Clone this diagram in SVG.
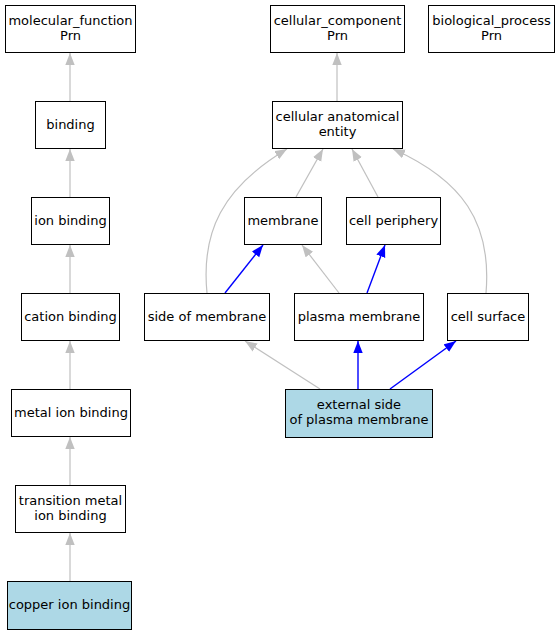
<svg xmlns="http://www.w3.org/2000/svg" width="560" height="635" viewBox="0 0 560 635">
<defs>
<style>
.n rect{fill:#fff;stroke:#000;stroke-width:1}
.n.hl rect{fill:#add8e6}
text{font-family:"DejaVu Sans","Liberation Sans",sans-serif;font-size:13px;fill:#000;text-anchor:middle}
.g{stroke:#c0c0c0;fill:none;stroke-width:1.2}
.b{stroke:#0000ff;fill:none;stroke-width:1.4}
.g{marker-end:url(#ag)}
.b{marker-end:url(#ab)}
</style>
<marker id="ag" markerUnits="userSpaceOnUse" markerWidth="13" markerHeight="11" refX="12" refY="5" orient="auto" viewBox="0 0 13 11"><polygon points="0,0.3 12,5 0,9.7" fill="#c0c0c0"/></marker>
<marker id="ab" markerUnits="userSpaceOnUse" markerWidth="13" markerHeight="11" refX="12" refY="5" orient="auto" viewBox="0 0 13 11"><polygon points="0,0.3 12,5 0,9.7" fill="#0000ff"/></marker>
</defs>
<rect width="560" height="635" fill="#fff"/>
<g id="edges">
<path class="g" d="M70,101 L70,53"/>
<path class="g" d="M70,197 L70,149"/>
<path class="g" d="M70,293 L70,245"/>
<path class="g" d="M70,389 L70,341"/>
<path class="g" d="M70,485 L70,437"/>
<path class="g" d="M70,581 L70,533"/>
<path class="g" d="M337,101 L337,53"/>
<path class="g" d="M207,293 C201,232 222,188 287,149"/>
<path class="g" d="M296,197 L323,149"/>
<path class="g" d="M378,197 L352,149"/>
<path class="g" d="M486,293 C492,222 462,180 393,149"/>
<path class="b" d="M225,293 L263,245"/>
<path class="g" d="M339,293 L302,245"/>
<path class="b" d="M367,293 L385,245"/>
<path class="g" d="M320,389 L245,341"/>
<path class="b" d="M358,389 L358,341"/>
<path class="b" d="M390,389 L456,341"/>
</g>
<g id="molecular_function" class="n"><rect x="5.5" y="5.5" width="130" height="47"/><text x="70.5" y="24.5">molecular_function</text><text x="70.5" y="39.5">Prn</text></g>
<g id="cellular_component" class="n"><rect x="270.5" y="5.5" width="134" height="47"/><text x="337.5" y="24.5">cellular_component</text><text x="337.5" y="39.5">Prn</text></g>
<g id="biological_process" class="n"><rect x="428.5" y="5.5" width="126" height="47"/><text x="491.5" y="24.5">biological_process</text><text x="491.5" y="39.5">Prn</text></g>
<g id="binding" class="n"><rect x="35.5" y="101.5" width="70" height="47"/><text x="70.5" y="129">binding</text></g>
<g id="cellular_anatomical_entity" class="n"><rect x="272.5" y="101.5" width="130" height="47"/><text x="337.5" y="120.5">cellular anatomical</text><text x="337.5" y="135.5">entity</text></g>
<g id="ion_binding" class="n"><rect x="31.5" y="197.5" width="78" height="47"/><text x="70.5" y="225">ion binding</text></g>
<g id="membrane" class="n"><rect x="244.5" y="197.5" width="77" height="47"/><text x="283" y="225">membrane</text></g>
<g id="cell_periphery" class="n"><rect x="346.5" y="197.5" width="94" height="47"/><text x="393.5" y="225">cell periphery</text></g>
<g id="cation_binding" class="n"><rect x="21.5" y="293.5" width="98" height="47"/><text x="70.5" y="321">cation binding</text></g>
<g id="side_of_membrane" class="n"><rect x="144.5" y="293.5" width="125" height="47"/><text x="207" y="321">side of membrane</text></g>
<g id="plasma_membrane" class="n"><rect x="294.5" y="293.5" width="129" height="47"/><text x="359" y="321">plasma membrane</text></g>
<g id="cell_surface" class="n"><rect x="447.5" y="293.5" width="81" height="47"/><text x="488" y="321">cell surface</text></g>
<g id="metal_ion_binding" class="n"><rect x="11.5" y="389.5" width="119" height="47"/><text x="71" y="417">metal ion binding</text></g>
<g id="external_side_of_plasma_membrane" class="n hl"><rect x="285.5" y="389.5" width="147" height="48"/><text x="359" y="409">external side</text><text x="359" y="424">of plasma membrane</text></g>
<g id="transition_metal_ion_binding" class="n"><rect x="15.5" y="485.5" width="110" height="47"/><text x="70.5" y="504.5">transition metal</text><text x="70.5" y="519.5">ion binding</text></g>
<g id="copper_ion_binding" class="n hl"><rect x="7.5" y="581.5" width="124" height="48"/><text x="69.5" y="609">copper ion binding</text></g>
</svg>
